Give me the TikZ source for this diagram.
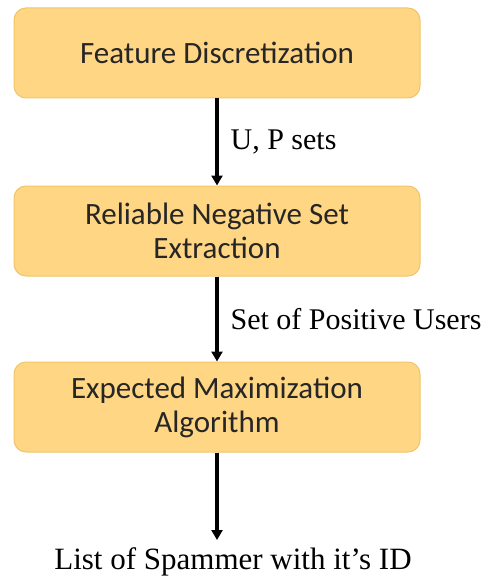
\documentclass[tikz,border=0pt]{standalone}
\usepackage{fontspec}
\setmainfont{Liberation Serif}
\newfontfamily\boxfont{Carlito}
\usetikzlibrary{arrows.meta}
\definecolor{boxfill}{RGB}{255,214,132}
\definecolor{boxline}{RGB}{240,196,104}
\begin{document}
\begin{tikzpicture}[x=1pt,y=1pt,
  stepbox/.style={draw=boxline, line width=1pt, fill=boxfill, rounded corners=12pt,
    minimum width=406pt, minimum height=90pt, align=center,
    font=\boxfont\fontsize{31}{34}\selectfont, text=black!85},
  flow/.style={line width=3.2pt, -{Triangle[length=10pt,width=11pt]}},
  lab/.style={font=\fontsize{30}{34}\selectfont, anchor=west, inner sep=0pt}]
\useasboundingbox (0,0) rectangle (487,-580);
\node[stepbox] (fd) at (217,-53) {Feature Discretization};
\node[stepbox] (rn) at (217,-231) {Reliable Negative Set\\Extraction};
\node[stepbox] (em) at (217,-407) {Expected Maximization\\Algorithm};
\node[font=\fontsize{31}{34}\selectfont, inner sep=2pt] (out) at (233,-562) {List of Spammer with it’s ID};
\coordinate (end) at (217,-540);
\draw[flow] (fd) -- (rn) node[midway, lab, xshift=12pt] {U, P sets};
\draw[flow] (rn) -- (em) node[midway, lab, xshift=12pt] {Set of Positive Users};
\draw[flow] (em) -- (end);
\end{tikzpicture}
\end{document}
